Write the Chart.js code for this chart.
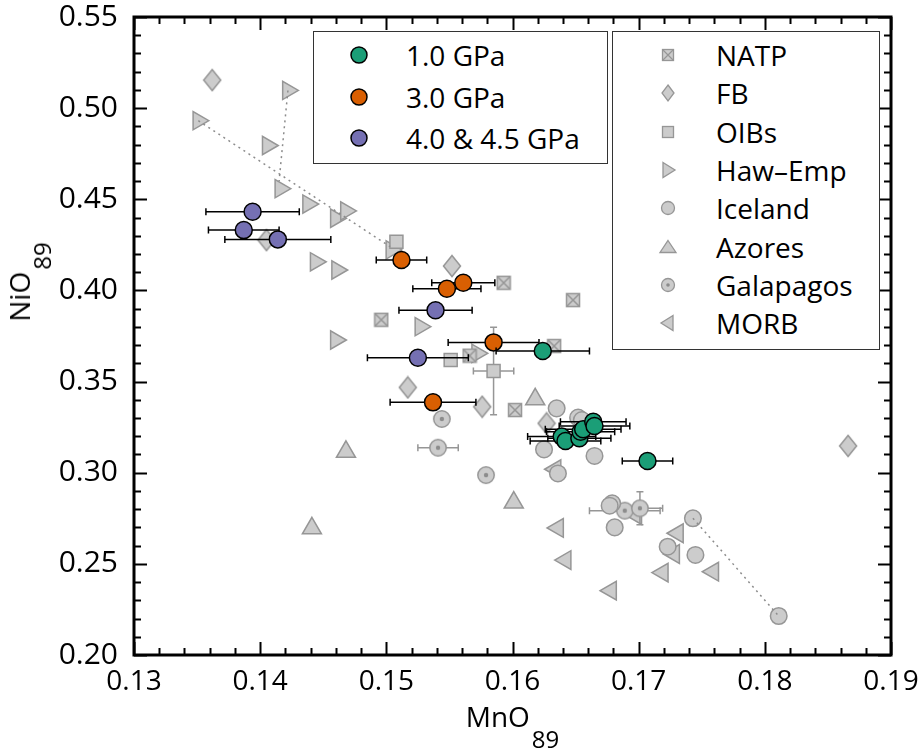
<!DOCTYPE html>
<html>
<head>
<meta charset="utf-8">
<script src="https://cdn.jsdelivr.net/npm/chart.js@4.4.0/dist/chart.umd.min.js"></script>
<style>
  body { margin: 0; background: #fff; font-family: 'Open Sans', sans-serif; }
  #wrap { position: relative; width: 919px; height: 750px; overflow: hidden; }
  #chart { position: absolute; left: 0; top: 0; }
  .legend { position: absolute; border: 1.5px solid #333; background: #fff; box-sizing: border-box; }
  .row { position: absolute; left: 0; right: 0; height: 38px; line-height: 38px; font-size: 28px; color: #000; white-space: nowrap; }
  .row svg { position: absolute; top: 7px; }
  .row span { position: absolute; }
  .xtitle { position: absolute; left: 0; width: 1025px; top: 697px; text-align: center; font-size: 28px; line-height: 38px; }
  .ytitle { position: absolute; left: 20px; top: 282px; font-size: 28px; line-height: 38px; white-space: nowrap;
            transform: translate(-50%, -50%) rotate(-90deg); }
  .sub { font-size: 24px; position: relative; top: 21px; margin-left: 2px; }
</style>
</head>
<body>
<div id="wrap">
  <canvas id="chart" width="919" height="750"></canvas>
  <div class="xtitle">MnO<span class="sub">89</span></div>
  <div class="ytitle">NiO<span class="sub">89</span></div>
  <div class="legend" id="leg1" style="left:313px; top:31px; width:295px; height:133px;"></div>
  <div class="legend" id="leg2" style="left:612px; top:31px; width:268px; height:319px;"></div>
</div>
<script>
// axis ticks
const xTicks = [0.13, 0.14, 0.15, 0.16, 0.17, 0.18, 0.19];
const yTicks = [0.20, 0.25, 0.30, 0.35, 0.40, 0.45, 0.50, 0.55];

// experiments (x error = MnO uncertainty)
const gpa1X = [0.1639, 0.1642, 0.1653, 0.1654, 0.1656, 0.1664, 0.1665, 0.1624, 0.1707];
const gpa1Y = [0.3198, 0.3174, 0.3189, 0.3225, 0.3238, 0.3280, 0.3256, 0.3668, 0.3064];
const gpa1Err = [0.0027, 0.0028, 0.0025, 0.0027, 0.0030, 0.0026, 0.0028, 0.0037, 0.0020];

const gpa3X = [0.1512, 0.1548, 0.1561, 0.1585, 0.1537];
const gpa3Y = [0.4167, 0.4009, 0.4042, 0.3715, 0.3386];
const gpa3Err = [0.0020, 0.0027, 0.0025, 0.0036, 0.0034];

const gpa4X = [0.1394, 0.1387, 0.1414, 0.1539, 0.1525];
const gpa4Y = [0.4432, 0.4331, 0.4280, 0.3891, 0.3631];
const gpa4Err = [0.0037, 0.0028, 0.0042, 0.0029, 0.0040];

// natural olivines
const natpX = [0.1593, 0.1648, 0.1496, 0.1633, 0.1602, 0.1566];
const natpY = [0.4042, 0.3947, 0.3839, 0.3695, 0.3344, 0.3642];

const fbX = [0.1362, 0.1405, 0.1552, 0.1517, 0.1576, 0.1627, 0.1866];
const fbY = [0.5154, 0.4276, 0.4134, 0.3468, 0.3362, 0.3271, 0.3147];

const oibX = [0.1508, 0.1551, 0.1585];
const oibY = [0.4267, 0.3618, 0.3558];
const oibXErr = [0, 0, 0.0016];
const oibYErr = [0, 0, 0.024];

const hawX = [0.1351, 0.1422, 0.1406, 0.1416, 0.1438, 0.1460, 0.1468, 0.1504, 0.1444, 0.1461, 0.1527, 0.1460, 0.1572];
const hawY = [0.4931, 0.5097, 0.4795, 0.4558, 0.4474, 0.4396, 0.4436, 0.4222, 0.4157, 0.4112, 0.3801, 0.3728, 0.3655];

const icelandX = [0.1635, 0.1652, 0.1655, 0.1625, 0.1665, 0.1636, 0.1679, 0.1677, 0.1681, 0.1723, 0.1745, 0.1743, 0.1811];
const icelandY = [0.3353, 0.3302, 0.3289, 0.3128, 0.3092, 0.2996, 0.2832, 0.2819, 0.2700, 0.2594, 0.2549, 0.2750, 0.2214];

const azoresX = [0.1618, 0.1468, 0.1441, 0.1601];
const azoresY = [0.3403, 0.3115, 0.2695, 0.2836];

const galX = [0.1544, 0.1541, 0.1579, 0.1689, 0.1701];
const galY = [0.3295, 0.3137, 0.2987, 0.2792, 0.2805];
const galXErr = [0, 0.0016, 0, 0.0028, 0.0018];
const galYErr = [0, 0, 0, 0, 0.009];

const morbX = [0.1634, 0.1636, 0.1642, 0.1678, 0.1698, 0.1731, 0.1728, 0.1719, 0.1759];
const morbY = [0.3019, 0.2697, 0.2521, 0.2353, 0.2768, 0.2668, 0.2554, 0.2452, 0.2457];

// dotted trend lines
const trend1X = [0.1351, 0.1503];
const trend1Y = [0.4931, 0.4240];
const trend2X = [0.1422, 0.1415];
const trend2Y = [0.5097, 0.4600];
const trend3X = [0.1743, 0.1811];
const trend3Y = [0.2750, 0.2214];

const GRAY = 'rgb(204,204,204)';
const GRAY_EDGE = 'rgb(150,150,150)';
const GREEN = '#1b9e77', ORANGE = '#d95f02', PURPLE = '#7570b3';

const pts = (xs, ys) => xs.map((x, i) => ({ x: x, y: ys[i] }));

function symbolCanvas(w, h, draw) {
  const c = document.createElement('canvas');
  c.width = w; c.height = h;
  const g = c.getContext('2d');
  g.fillStyle = GRAY; g.strokeStyle = GRAY_EDGE; g.lineWidth = 1.5;
  draw(g);
  return c;
}
const diamondImg = symbolCanvas(20, 24, g => {
  g.beginPath(); g.moveTo(10, 1.5); g.lineTo(18.5, 12); g.lineTo(10, 22.5); g.lineTo(1.5, 12); g.closePath();
  g.fill(); g.stroke();
});
const natpImg = symbolCanvas(16, 16, g => {
  g.fillRect(1.5, 1.5, 13, 13); g.strokeRect(1.5, 1.5, 13, 13);
  g.beginPath(); g.moveTo(1.5, 1.5); g.lineTo(14.5, 14.5); g.moveTo(14.5, 1.5); g.lineTo(1.5, 14.5); g.stroke();
});
const galImg = symbolCanvas(20, 20, g => {
  g.beginPath(); g.arc(10, 10, 8.2, 0, Math.PI * 2); g.fill(); g.stroke();
  g.fillStyle = 'rgb(140,140,140)';
  g.beginPath(); g.arc(10, 10, 2.2, 0, Math.PI * 2); g.fill();
});

const colored = (label, xs, ys, errs, color) => ({
  label: label, data: pts(xs, ys), xErr: errs, errColor: '#000',
  pointStyle: 'circle', pointRadius: 8.5, backgroundColor: color,
  borderColor: '#000', borderWidth: 1.5
});
const grayDs = (label, xs, ys, style, radius, rotation) => ({
  label: label, data: pts(xs, ys), pointStyle: style, pointRadius: radius,
  rotation: rotation || 0, backgroundColor: GRAY, borderColor: GRAY_EDGE, borderWidth: 1.5
});
const trendDs = (xs, ys) => ({
  label: '', data: pts(xs, ys), showLine: true, pointRadius: 0,
  borderColor: 'rgb(140,140,140)', borderWidth: 1.5, borderDash: [2, 4]
});

const datasets = [
  colored('1.0 GPa', gpa1X, gpa1Y, gpa1Err, GREEN),
  colored('3.0 GPa', gpa3X, gpa3Y, gpa3Err, ORANGE),
  colored('4.0 & 4.5 GPa', gpa4X, gpa4Y, gpa4Err, PURPLE),
  trendDs(trend1X, trend1Y),
  trendDs(trend2X, trend2Y),
  trendDs(trend3X, trend3Y),
  grayDs('NATP', natpX, natpY, natpImg, 8),
  grayDs('FB', fbX, fbY, diamondImg, 10),
  Object.assign(grayDs('OIBs', oibX, oibY, 'rect', 9.2), { xErr: oibXErr, yErr: oibYErr, errColor: GRAY_EDGE }),
  grayDs('Haw\u2013Emp', hawX, hawY, 'triangle', 10.5, 90),
  grayDs('Iceland', icelandX, icelandY, 'circle', 8.3),
  grayDs('Azores', azoresX, azoresY, 'triangle', 11),
  Object.assign(grayDs('Galapagos', galX, galY, galImg, 8.2), { xErr: galXErr, yErr: galYErr, errColor: GRAY_EDGE }),
  grayDs('MORB', morbX, morbY, 'triangle', 10.8, -90)
];

// error bars drawn just before each dataset's markers
const errorBars = {
  id: 'errorBars',
  beforeDatasetDraw(chart, args) {
    const ds = chart.data.datasets[args.index];
    if (!ds.xErr && !ds.yErr) return;
    const xs = chart.scales.x, ys = chart.scales.y, ctx = chart.ctx;
    ctx.save();
    ctx.strokeStyle = ds.errColor; ctx.lineWidth = 1.5;
    ds.data.forEach((p, i) => {
      const px = xs.getPixelForValue(p.x), py = ys.getPixelForValue(p.y);
      const ex = ds.xErr ? ds.xErr[i] : 0, ey = ds.yErr ? ds.yErr[i] : 0;
      ctx.beginPath();
      if (ex) {
        const l = xs.getPixelForValue(p.x - ex), r = xs.getPixelForValue(p.x + ex);
        ctx.moveTo(l, py); ctx.lineTo(r, py);
        ctx.moveTo(l, py - 3.5); ctx.lineTo(l, py + 3.5);
        ctx.moveTo(r, py - 3.5); ctx.lineTo(r, py + 3.5);
      }
      if (ey) {
        const t = ys.getPixelForValue(p.y + ey), b = ys.getPixelForValue(p.y - ey);
        ctx.moveTo(px, t); ctx.lineTo(px, b);
        ctx.moveTo(px - 3.5, t); ctx.lineTo(px + 3.5, t);
        ctx.moveTo(px - 3.5, b); ctx.lineTo(px + 3.5, b);
      }
      ctx.stroke();
    });
    ctx.restore();
  }
};

// box frame with inward major/minor ticks on all four sides
const frame = {
  id: 'frame',
  afterDraw(chart) {
    const { ctx, chartArea: a } = chart;
    const xs = chart.scales.x, ys = chart.scales.y;
    ctx.save();
    ctx.strokeStyle = '#000';
    ctx.lineWidth = 2;
    ctx.beginPath();
    for (let k = 0; k <= 30; k++) {
      const v = 0.13 + k * 0.002;
      const len = k % 5 === 0 ? 13 : 7;
      const px = Math.round(xs.getPixelForValue(v)) + 0.5;
      ctx.moveTo(px, a.bottom); ctx.lineTo(px, a.bottom - len);
      ctx.moveTo(px, a.top); ctx.lineTo(px, a.top + len);
    }
    for (let k = 0; k <= 35; k++) {
      const v = 0.20 + k * 0.01;
      const len = k % 5 === 0 ? 13 : 7;
      const py = Math.round(ys.getPixelForValue(v)) + 0.5;
      ctx.moveTo(a.left, py); ctx.lineTo(a.left + len, py);
      ctx.moveTo(a.right, py); ctx.lineTo(a.right - len, py);
    }
    ctx.stroke();
    ctx.lineWidth = 3;
    ctx.strokeRect(a.left, a.top, a.right - a.left, a.bottom - a.top);
    ctx.restore();
  }
};

const tickFont = { family: "'Open Sans', sans-serif", size: 28 };

new Chart(document.getElementById('chart'), {
  type: 'scatter',
  data: { datasets: datasets },
  options: {
    responsive: false,
    animation: false,
    layout: { padding: { left: 0, top: 17, right: 28, bottom: 0 } },
    plugins: { legend: { display: false }, tooltip: { enabled: false } },
    scales: {
      x: {
        type: 'linear', min: 0.13, max: 0.19,
        afterBuildTicks: s => { s.ticks = xTicks.map(v => ({ value: v })); },
        afterFit: s => { s.height = 95; s.paddingLeft = 0; s.paddingRight = 0; },
        grid: { display: false, drawTicks: false }, border: { display: false },
        ticks: { padding: 10, color: '#000', font: tickFont, maxRotation: 0, callback: v => v.toFixed(2) }
      },
      y: {
        type: 'linear', min: 0.20, max: 0.55,
        afterBuildTicks: s => { s.ticks = yTicks.map(v => ({ value: v })); },
        afterFit: s => { s.width = 134; s.paddingTop = 0; s.paddingBottom = 0; },
        grid: { display: false, drawTicks: false }, border: { display: false },
        ticks: { padding: 16, color: '#000', font: { family: "'Open Sans', sans-serif", size: 30 }, callback: v => v.toFixed(2) }
      }
    }
  },
  plugins: [errorBars, frame]
});

// legends (HTML, symbols as small SVGs)
function addRow(box, cy, symX, textX, svg, text) {
  const row = document.createElement('div');
  row.className = 'row';
  row.style.top = (cy - 19) + 'px';
  row.innerHTML = svg.replace('<svg', '<svg style="left:' + (symX - 12) + 'px"') +
    '<span style="left:' + textX + 'px">' + text + '</span>';
  box.appendChild(row);
}
const sv = inner => '<svg width="24" height="24" viewBox="-12 -12 24 24">' + inner + '</svg>';
const gs = 'fill="' + GRAY + '" stroke="' + GRAY_EDGE + '" stroke-width="1.3"';
const circ = c => sv('<circle r="8" fill="' + c + '" stroke="#000" stroke-width="1.5"/>');

const leg1 = document.getElementById('leg1');
[[GREEN, '1.0 GPa'], [ORANGE, '3.0 GPa'], [PURPLE, '4.0 &amp; 4.5 GPa']].forEach((e, i) => {
  addRow(leg1, 23 + i * 41.5, 45, 92, circ(e[0]), e[1]);
});

const leg2Symbols = [
  sv('<rect x="-5.5" y="-5.5" width="11" height="11" ' + gs + '/><path d="M-5.5,-5.5L5.5,5.5M5.5,-5.5L-5.5,5.5" stroke="' + GRAY_EDGE + '" stroke-width="1.2"/>'),
  sv('<polygon points="0,-8 6,0 0,8 -6,0" ' + gs + '/>'),
  sv('<rect x="-5.5" y="-5.5" width="11" height="11" ' + gs + '/>'),
  sv('<polygon points="-5,-7.5 7,0 -5,7.5" ' + gs + '/>'),
  sv('<circle r="6.5" ' + gs + '/>'),
  sv('<polygon points="0,-6.5 8,5.5 -8,5.5" ' + gs + '/>'),
  sv('<circle r="6.5" ' + gs + '/><circle r="1.8" fill="rgb(140,140,140)"/>'),
  sv('<polygon points="5,-7.5 -7,0 5,7.5" ' + gs + '/>')
];
const leg2Labels = ['NATP', 'FB', 'OIBs', 'Haw\u2013Emp', 'Iceland', 'Azores', 'Galapagos', 'MORB'];
const leg2 = document.getElementById('leg2');
leg2Labels.forEach((t, i) => addRow(leg2, 23 + i * 38.3, 55, 103, leg2Symbols[i], t));
</script>
</body>
</html>
